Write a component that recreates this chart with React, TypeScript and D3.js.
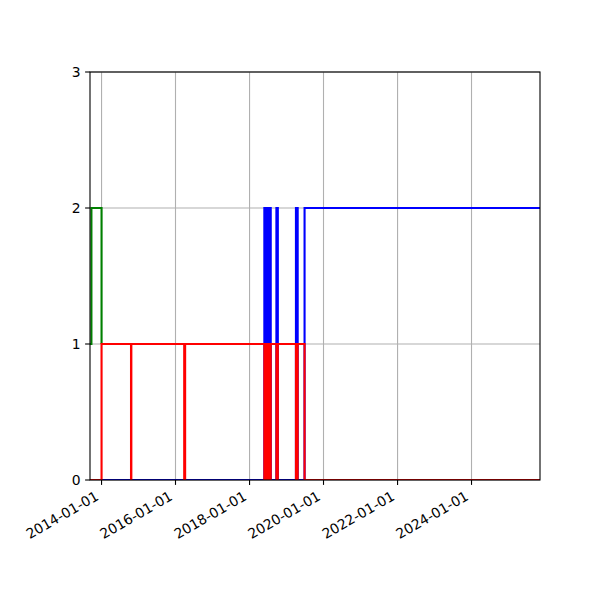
import { scaleLinear, scaleTime, line as d3Line, curveStepAfter, timeFormat, timeYear } from "d3";

// step series: dates where the value changes, and the value from that date on
const greenDates = ["2013-09-09", "2013-09-23", "2014-01-01"];
const greenValues = [1, 2, 1];

const redDates = [
  "2013-09-09", "2014-01-01",
  "2014-10-19", "2014-10-22",
  "2016-03-27", "2016-04-05",
  "2018-05-27", "2018-06-05", "2018-06-08", "2018-06-17", "2018-06-20",
  "2018-06-29", "2018-07-02", "2018-07-11", "2018-07-14", "2018-07-23",
  "2018-07-25", "2018-07-29",
  "2018-09-23", "2018-10-07",
  "2019-04-04", "2019-04-21",
  "2019-06-28", "2025-11-07",
];
const redValues = [
  0, 1,
  0, 1,
  0, 1,
  0, 1, 0, 1, 0,
  1, 0, 1, 0, 1,
  0, 1,
  0, 1,
  0, 1,
  0, 0,
];

const blueDates = [
  "2014-01-01",
  "2018-05-27", "2018-06-05", "2018-06-08", "2018-06-17", "2018-06-20",
  "2018-06-29", "2018-07-02", "2018-07-11", "2018-07-14", "2018-07-23",
  "2018-07-25", "2018-07-29",
  "2018-09-23", "2018-10-07",
  "2019-04-04", "2019-04-21",
  "2019-06-28", "2025-11-07",
];
const blueValues = [
  0,
  2, 0, 2, 0, 2,
  0, 2, 0, 2, 0,
  2, 0,
  2, 0,
  2, 0,
  2, 2,
];

const xDomain = ["2013-09-09", "2025-11-07"];
const yTicks = [0, 1, 2, 3];

type Pt = { t: Date; v: number };
const toPts = (dates: string[], values: number[]): Pt[] =>
  dates.map((d, i) => ({ t: new Date(d + "T00:00:00Z"), v: values[i] }));

const series = [
  { name: "green", color: "#008000", pts: toPts(greenDates, greenValues) },
  { name: "blue", color: "#0000ff", pts: toPts(blueDates, blueValues) },
  { name: "red", color: "#ff0000", pts: toPts(redDates, redValues) },
];

export default function App() {
  const W = 600;
  const H = 600;
  const left = 90;
  const right = 540;
  const top = 72;
  const bottom = 480;
  const font = "'DejaVu Sans', sans-serif";

  const x = scaleTime()
    .domain(xDomain.map((d) => new Date(d + "T00:00:00Z")) as [Date, Date])
    .range([left, right]);
  const y = scaleLinear().domain([0, 3]).range([bottom, top]);

  const xTicks = timeYear
    .every(2)!
    .range(new Date("2014-01-01T00:00:00Z"), new Date("2025-01-01T00:00:00Z"))
    .map((d) => new Date(Date.UTC(d.getFullYear(), 0, 1)));
  const fmt = (d: Date) => timeFormat("%Y-%m-%d")(new Date(d.getUTCFullYear(), 0, 1));

  const lineGen = d3Line<Pt>()
    .x((d) => x(d.t))
    .y((d) => y(d.v))
    .curve(curveStepAfter);

  return (
    <svg width={W} height={H} style={{ display: "block", margin: -8, background: "#fff" }}>
      <defs>
        <clipPath id="plot">
          <rect x={left} y={top} width={right - left} height={bottom - top} />
        </clipPath>
      </defs>
      <rect x={0} y={0} width={W} height={H} fill="#fff" />

      {/* grid */}
      {xTicks.map((t, i) => (
        <line key={`gx-${i}`} x1={x(t)} x2={x(t)} y1={top} y2={bottom} stroke="#b0b0b0" strokeWidth={1.1} />
      ))}
      {yTicks.map((t, i) => (
        <line key={`gy-${i}`} x1={left} x2={right} y1={y(t)} y2={y(t)} stroke="#b0b0b0" strokeWidth={1.1} />
      ))}

      {/* step lines */}
      <g clipPath="url(#plot)">
        {series.map((s) => (
          <path
            key={s.name}
            d={lineGen(s.pts) ?? ""}
            fill="none"
            stroke={s.color}
            strokeWidth={2.1}
            strokeLinejoin="miter"
            strokeLinecap="butt"
          />
        ))}
      </g>

      {/* frame */}
      <rect x={left} y={top} width={right - left} height={bottom - top} fill="none" stroke="#000" strokeWidth={1.1} />

      {/* x axis */}
      {xTicks.map((t, i) => {
        const tx = x(t);
        return (
          <g key={`xt-${i}`}>
            <line x1={tx} x2={tx} y1={bottom} y2={bottom + 4.9} stroke="#000" strokeWidth={1.1} />
            <text
              transform={`translate(${tx - 2},${bottom + 19}) rotate(-30)`}
              textAnchor="end"
              fontFamily={font}
              fontSize={13.9}
              fill="#000"
            >
              {fmt(t)}
            </text>
          </g>
        );
      })}

      {/* y axis */}
      {yTicks.map((t, i) => (
        <g key={`yt-${i}`}>
          <line x1={left - 4.9} x2={left} y1={y(t)} y2={y(t)} stroke="#000" strokeWidth={1.1} />
          <text
            x={left - 9.5}
            y={y(t)}
            dy="0.36em"
            textAnchor="end"
            fontFamily={font}
            fontSize={13.9}
            fill="#000"
          >
            {t}
          </text>
        </g>
      ))}
    </svg>
  );
}
